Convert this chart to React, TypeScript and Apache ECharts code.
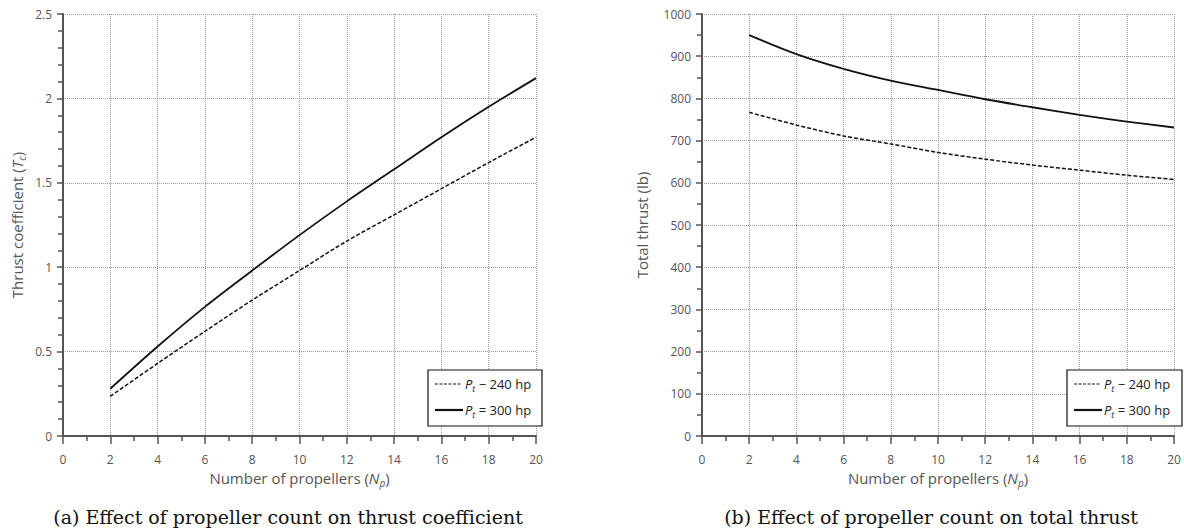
import React, { useEffect, useRef } from "react";
import * as echarts from "echarts";

const propellers = [2, 4, 6, 8, 10, 12, 14, 16, 18, 20];
const tc240 = [0.235, 0.43, 0.62, 0.805, 0.98, 1.155, 1.31, 1.465, 1.62, 1.77];
const tc300 = [0.28, 0.53, 0.765, 0.98, 1.19, 1.39, 1.58, 1.77, 1.95, 2.12];
const thrust240 = [767, 737, 711, 692, 672, 656, 642, 630, 618, 608];
const thrust300 = [950, 905, 870, 842, 820, 798, 779, 761, 745, 731];
const seriesNames = ["P_t = 240 hp", "P_t = 300 hp"];
const captions = [
  "(a) Effect of propeller count on thrust coefficient",
  "(b) Effect of propeller count on total thrust",
];

const AXIS = "#555";
const TXT = "#555";
const FONT = "Open Sans";
const NAME_SIZE = 15;

const pairs = (xs: number[], ys: number[]) => xs.map((x, i) => [x, ys[i]]);

const nameRich = {
  n: { fontSize: NAME_SIZE, color: TXT, fontFamily: FONT, lineHeight: 20 },
  i: { fontSize: NAME_SIZE, color: TXT, fontFamily: FONT, fontStyle: "italic", lineHeight: 20 },
  s: { fontSize: 10, color: TXT, fontFamily: FONT, fontStyle: "italic", verticalAlign: "bottom", lineHeight: 12, padding: [7, 0, 0, 0] },
};

const xAxisCfg = (gridIndex: number) => ({
  type: "value",
  gridIndex,
  min: 0,
  max: 20,
  interval: 2,
  name: "{n|Number of propellers (}{i|N}{s|p}{n|)}",
  nameLocation: "middle",
  nameGap: 32,
  nameTextStyle: { rich: nameRich },
  axisLine: { show: true, onZero: false, lineStyle: { color: AXIS, width: 2 } },
  axisTick: { show: true, inside: false, length: 8, lineStyle: { color: AXIS, width: 1.5 } },
  minorTick: { show: true, splitNumber: 2, length: 5, lineStyle: { color: AXIS, width: 1.5 } },
  axisLabel: { color: TXT, fontSize: 12, fontFamily: FONT, margin: 17 },
  splitLine: { show: true, lineStyle: { color: "#9a9a9a", type: "dotted", width: 1 } },
});

const yAxisCfg = (gridIndex: number, max: number, interval: number, minorSplit: number, name: string, nameGap: number, margin: number) => ({
  type: "value",
  gridIndex,
  min: 0,
  max,
  interval,
  name,
  nameLocation: "middle",
  nameGap,
  nameTextStyle: { rich: nameRich },
  axisLine: { show: true, onZero: false, lineStyle: { color: AXIS, width: 2 } },
  axisTick: { show: true, inside: false, length: 6, lineStyle: { color: AXIS, width: 1.5 } },
  minorTick: { show: true, splitNumber: minorSplit, length: 5, lineStyle: { color: AXIS, width: 1.5 } },
  axisLabel: { color: TXT, fontSize: 12, fontFamily: FONT, margin, formatter: (v: number) => String(v) },
  splitLine: { show: true, lineStyle: { color: "#9a9a9a", type: "dotted", width: 1 } },
});

const legendGraphic = (bx: number, by: number, bw: number, bh: number) => {
  const sx = bx + 7;
  const tx = bx + 37;
  const y1 = by + 14;
  const y2 = by + 40;
  const rich = {
    n: { fontSize: 13, fontFamily: FONT, fill: "#222" },
    i: { fontSize: 13, fontFamily: FONT, fontStyle: "italic", fill: "#222" },
    s: { fontSize: 9, fontFamily: FONT, fontStyle: "italic", fill: "#222", padding: [8, 0, 0, 0] },
  };
  return [
    { type: "rect", shape: { x: bx, y: by, width: bw, height: bh }, style: { fill: "#fff", stroke: "#111", lineWidth: 1.2 }, z: 100 },
    { type: "line", shape: { x1: sx, y1, x2: sx + 26, y2: y1 }, style: { stroke: "#111", lineWidth: 1.2, lineDash: [3, 1.5] }, z: 101 },
    { type: "line", shape: { x1: sx, y1: y2, x2: sx + 28, y2 }, style: { stroke: "#111", lineWidth: 2.2 }, z: 101 },
    { type: "text", x: tx, y: y1, style: { text: "{i|P}{s|t}{n| − 240 hp}", rich, verticalAlign: "middle", align: "left" }, z: 101 },
    { type: "text", x: tx, y: y2, style: { text: "{i|P}{s|t}{n| = 300 hp}", rich, verticalAlign: "middle", align: "left" }, z: 101 },
  ];
};

export default function App() {
  const ref = useRef<HTMLDivElement>(null);
  useEffect(() => {
    if (!ref.current) return;
    const chart = echarts.init(ref.current, null, { renderer: "svg" });
    chart.setOption({
      animation: false,
      backgroundColor: "#fff",
      grid: [
        { left: 63, top: 14, width: 473, height: 422 },
        { left: 702, top: 14, width: 472, height: 422 },
      ],
      xAxis: [xAxisCfg(0), xAxisCfg(1)],
      yAxis: [
        yAxisCfg(0, 2.5, 0.5, 5, "{n|Thrust coefficient (}{i|T}{s|c}{n|)}", 36, 11),
        yAxisCfg(1, 1000, 100, 2, "{n|Total thrust (lb)}", 50, 11),
      ],
      series: [
        { name: seriesNames[0], type: "line", xAxisIndex: 0, yAxisIndex: 0, data: pairs(propellers, tc240), smooth: 0.3, showSymbol: false, lineStyle: { color: "#111", width: 1.5, type: [4, 2] } },
        { name: seriesNames[1], type: "line", xAxisIndex: 0, yAxisIndex: 0, data: pairs(propellers, tc300), smooth: 0.3, showSymbol: false, lineStyle: { color: "#111", width: 1.8 } },
        { name: seriesNames[0], type: "line", xAxisIndex: 1, yAxisIndex: 1, data: pairs(propellers, thrust240), smooth: 0.3, showSymbol: false, lineStyle: { color: "#111", width: 1.5, type: [4, 2] } },
        { name: seriesNames[1], type: "line", xAxisIndex: 1, yAxisIndex: 1, data: pairs(propellers, thrust300), smooth: 0.3, showSymbol: false, lineStyle: { color: "#111", width: 1.8 } },
      ],
      graphic: [
        ...legendGraphic(428, 370, 114, 56),
        ...legendGraphic(1067, 370, 115, 56),
        { type: "text", x: 288, y: 517, style: { text: captions[0], font: "19px 'DejaVu Serif'", fill: "#111", align: "center", verticalAlign: "middle" } },
        { type: "text", x: 931, y: 517, style: { text: captions[1], font: "19px 'DejaVu Serif'", fill: "#111", align: "center", verticalAlign: "middle" } },
      ],
    });
    return () => chart.dispose();
  }, []);
  return <div ref={ref} style={{ position: "absolute", left: 0, top: 0, width: 1184, height: 531 }} />;
}
